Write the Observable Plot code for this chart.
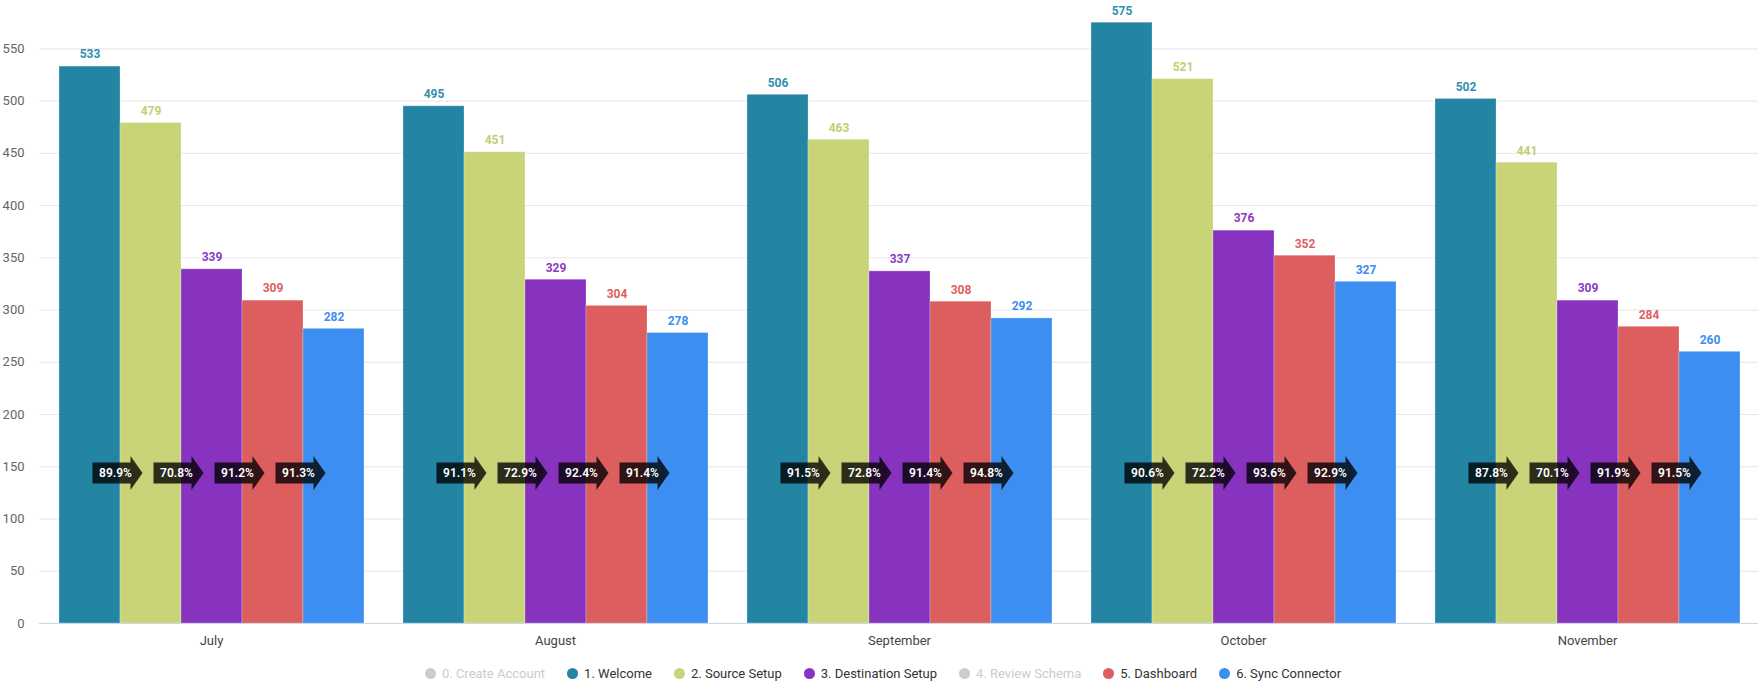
<!DOCTYPE html>
<html>
<head>
<meta charset="utf-8">
<script src="https://cdn.jsdelivr.net/npm/d3@7"></script>
<script src="https://cdn.jsdelivr.net/npm/@observablehq/plot@0.6"></script>
<style>
  html, body { margin: 0; padding: 0; background: white; }
  body { width: 1758px; font-family: Roboto, "Noto Sans", sans-serif; }
  #legend { display: flex; justify-content: center; align-items: center; gap: 22px; padding-top: 14px; font-size: 13px; color: #333; padding-left: 8px;}
  #legend .item { display: flex; align-items: center; gap: 6px; }
  #legend .sw { width: 11px; height: 11px; border-radius: 50%; display: inline-block; }
</style>
</head>
<body>
<div id="chart"></div>
<div id="legend"></div>
<script>
const months = ["July", "August", "September", "October", "November"];
const series = ["1. Welcome", "2. Source Setup", "3. Destination Setup", "5. Dashboard", "6. Sync Connector"];
const welcome = [533, 495, 506, 575, 502];
const sourceSetup = [479, 451, 463, 521, 441];
const destinationSetup = [339, 329, 337, 376, 309];
const dashboard = [309, 304, 308, 352, 284];
const syncConnector = [282, 278, 292, 327, 260];
// conversion labels (step -> step), per month
const convWelcomeToSource = ["89.9%", "91.1%", "91.5%", "90.6%", "87.8%"];
const convSourceToDest = ["70.8%", "72.9%", "72.8%", "72.2%", "70.1%"];
const convDestToDash = ["91.2%", "92.4%", "91.4%", "93.6%", "91.9%"];
const convDashToSync = ["91.3%", "91.4%", "94.8%", "92.9%", "91.5%"];
const yTicks = [0, 50, 100, 150, 200, 250, 300, 350, 400, 450, 500, 550];
const arrowLevel = 144;
const colors = ["#2385a3", "#c9d377", "#8733c0", "#dc5e5f", "#3c8ef0"];
const labelColors = ["#3090b0", "#c3cd72", "#8a3bc4", "#e05f60", "#3c8ef0"];
const legendItems = ["0. Create Account", "1. Welcome", "2. Source Setup", "3. Destination Setup", "4. Review Schema", "5. Dashboard", "6. Sync Connector"];
const legendColors = ["#cccccc", "#2385a3", "#c9d377", "#8733c0", "#cccccc", "#dc5e5f", "#3c8ef0"];
const legendDisabled = [true, false, false, false, true, false, false];

const values = [welcome, sourceSetup, destinationSetup, dashboard, syncConnector];
const convs = [convWelcomeToSource, convSourceToDest, convDestToDash, convDashToSync];

const rows = months.flatMap((m, i) => series.map((s, j) => ({month: m, series: s, value: values[j][i], labelColor: labelColors[j]})));
const arrows = months.flatMap((m, i) => convs.map((c, j) => ({month: m, series: series[j], label: c[i]})));

const base = {
  width: 1758, height: 652,
  marginLeft: 41, marginRight: 1, marginTop: 17, marginBottom: 29,
  style: {fontFamily: "Roboto, 'Noto Sans', sans-serif", fontSize: "13px", background: "white"},
  fx: {domain: months, paddingInner: 0.105, paddingOuter: 0.04, label: null, axis: null},
  x: {domain: series, padding: 0, axis: null},
  y: {domain: [0, 580], axis: null},
  color: {domain: series, range: colors}
};

const barMark = () => Plot.barY(rows, {fx: "month", x: "series", y: "value", fill: "series", inset: 0, stroke: "white", strokeOpacity: 0.25, strokeWidth: 1});

// first pass to learn the bandwidth of a bar
const probe = Plot.plot({...base, marks: [barMark()]});
const bw = probe.scale("x").bandwidth;
const o = bw / 2;

const arrowSymbol = {
  draw(ctx) {
    ctx.moveTo(o - 28, -10.5);
    ctx.lineTo(o + 10, -10.5);
    ctx.lineTo(o + 10, -17);
    ctx.lineTo(o + 22, 0);
    ctx.lineTo(o + 10, 17);
    ctx.lineTo(o + 10, 10.5);
    ctx.lineTo(o - 28, 10.5);
    ctx.closePath();
  }
};

const chart = Plot.plot({
  ...base,
  marks: [
    Plot.ruleY(yTicks.filter(d => d > 0), {y: d => d, stroke: "#e6e6e6", strokeWidth: 1, insetLeft: -18, insetRight: -18}),
    Plot.axisY({ticks: yTicks, tickSize: 0, tickPadding: 33, fill: "#666", label: null, fontSize: 13}),
    barMark(),
    Plot.ruleY([0], {stroke: "#ccd6eb", strokeWidth: 1, insetLeft: -18, insetRight: -18}),
    Plot.text(rows, {fx: "month", x: "series", y: "value", text: d => String(d.value), dy: -12, fill: "labelColor", fontWeight: "bold", fontSize: 12}),
    Plot.dot(arrows, {fx: "month", x: "series", y: () => arrowLevel, symbol: arrowSymbol, r: 5, fill: "#000", fillOpacity: 0.78, stroke: null}),
    Plot.text(arrows, {fx: "month", x: "series", y: () => arrowLevel, text: "label", dx: o - 5, fill: "white", fontWeight: 600, fontSize: 12}),
    Plot.axisFx({anchor: "bottom", tickSize: 0, tickPadding: 12, label: null, fill: "#444", fontSize: 13})
  ]
});
document.getElementById("chart").appendChild(chart);

const legend = document.getElementById("legend");
legendItems.forEach((name, i) => {
  const item = document.createElement("div");
  item.className = "item";
  const sw = document.createElement("span");
  sw.className = "sw";
  sw.style.background = legendColors[i];
  const t = document.createElement("span");
  t.textContent = name;
  t.style.color = legendDisabled[i] ? "#cccccc" : "#333333";
  item.appendChild(sw);
  item.appendChild(t);
  legend.appendChild(item);
});
</script>
</body>
</html>
